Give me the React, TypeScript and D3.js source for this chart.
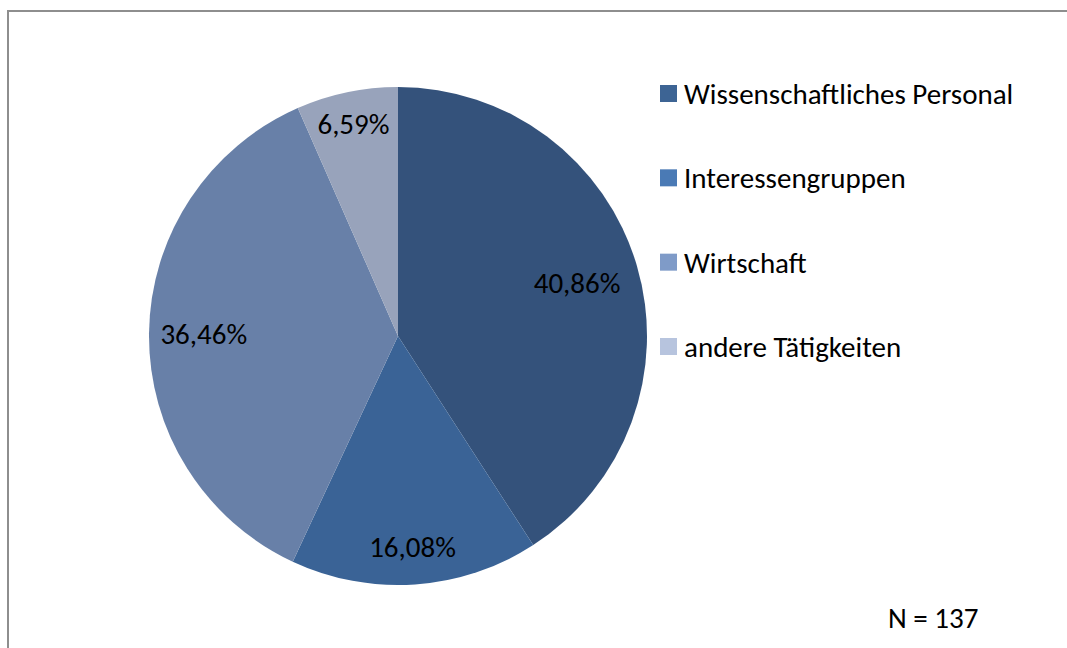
import React from "react";
import * as d3 from "d3";

const categories = ["Wissenschaftliches Personal", "Interessengruppen", "Wirtschaft", "andere Tätigkeiten"];
const values = [40.86, 16.08, 36.46, 6.59];
const labels = ["40,86%", "16,08%", "36,46%", "6,59%"];
const sliceColors = ["#34527b", "#3a6396", "#6880a8", "#98a3bb"];
const legendColors = ["#3d6494", "#4a7ab5", "#7f9bc8", "#b7c4de"];
const labelRadiusFactor = [0.75, 0.85, 0.78, 0.87];
const note = "N = 137";

const W = 1067;
const H = 648;
const cx = 398;
const cy = 336;
const R = 249;
const FONT = "Carlito, Lato, 'Open Sans', sans-serif";

export default function App() {
  const pie = d3.pie<number>().sort(null).value((d) => d)(values);
  const arc = d3.arc<d3.PieArcDatum<number>>().innerRadius(0).outerRadius(R);
  const legendY = d3.scalePoint<string>().domain(categories).range([94, 347]);

  return (
    <svg width={W} height={H} style={{ position: "absolute", left: 0, top: 0 }} fontFamily={FONT}>
      <rect x={0} y={0} width={W} height={H} fill="#fff" />
      <path d={`M8,${H + 5} L8,11 L${W + 5},11`} fill="none" stroke="#8e8e8e" strokeWidth={2} />
      <g transform={`translate(${cx},${cy})`}>
        {pie.map((p, i) => (
          <path key={i} d={arc(p) || ""} fill={sliceColors[i]} />
        ))}
        {pie.map((p, i) => {
          const a = (p.startAngle + p.endAngle) / 2;
          const r = R * labelRadiusFactor[i];
          return (
            <text
              key={i}
              x={Math.sin(a) * r}
              y={-Math.cos(a) * r}
              textAnchor="middle"
              dominantBaseline="central"
              fontSize={29}
              fill="#000"
            >
              {labels[i]}
            </text>
          );
        })}
      </g>
      {categories.map((c, i) => {
        const y = legendY(c)!;
        return (
          <g key={c}>
            <rect x={660} y={y - 9} width={17} height={17} fill={legendColors[i]} />
            <text x={684} y={y} dominantBaseline="central" fontSize={29} fill="#000">
              {c}
            </text>
          </g>
        );
      })}
      <text x={888} y={628} fontSize={29} fill="#000">
        {note}
      </text>
    </svg>
  );
}
